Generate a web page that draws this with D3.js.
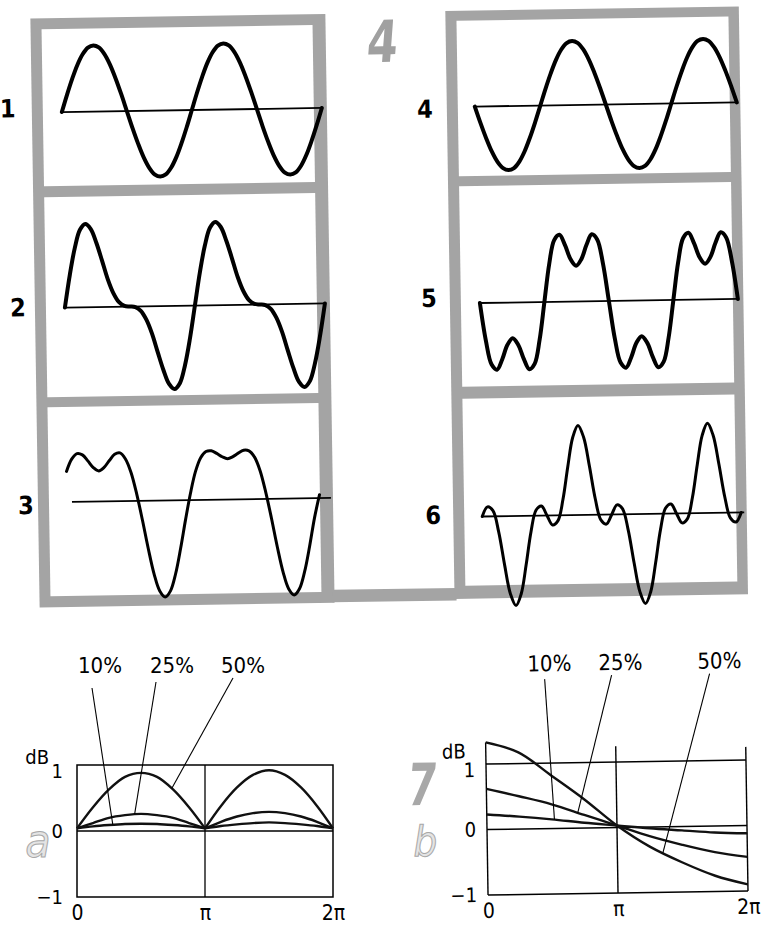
<!DOCTYPE html>
<html><head><meta charset="utf-8">
<script src="https://cdn.jsdelivr.net/npm/d3@7"></script>
<style>
html,body{margin:0;padding:0;background:#fff;}
svg{display:block;}
text{font-family:"DejaVu Sans Condensed","DejaVu Sans",sans-serif;font-stretch:condensed;}
</style></head><body>
<svg id="fig" width="770" height="928"></svg>
<script>
// ---------------- data ----------------
// phase grid of the six oscillograms, in degrees (two periods)
const phaseDeg = [0,15,30,45,60,75,90,105,120,135,150,165,180,195,210,225,240,255,270,285,300,315,330,345,360,
  375,390,405,420,435,450,465,480,495,510,525,540,555,570,585,600,615,630,645,660,675,690,705,720];

// waveform amplitudes
const wave1 = [0,.26,.5,.71,.87,.97,1,.97,.87,.71,.5,.26,0,-.26,-.5,-.71,-.87,-.97,-1,-.97,-.87,-.71,-.5,-.26,0,
  .26,.5,.71,.87,.97,1,.97,.87,.71,.5,.26,0,-.26,-.5,-.71,-.87,-.97,-1,-.97,-.87,-.71,-.5,-.26,0];
const wave2 = [0,.51,.93,1.21,1.3,1.22,1,.72,.43,.21,.07,.01,0,-.01,-.07,-.21,-.43,-.72,-1,-1.22,-1.3,-1.21,-.93,-.51,0,
  .51,.93,1.21,1.3,1.22,1,.72,.43,.21,.07,.01,0,-.01,-.07,-.21,-.43,-.72,-1,-1.22,-1.3,-1.21,-.93,-.51,0];
const wave3 = [.45,.63,.71,.69,.6,.5,.45,.5,.6,.69,.71,.62,.42,.1,-.29,-.71,-1.08,-1.33,-1.42,-1.33,-1.08,-.71,-.29,.1,.42,
  .62,.71,.72,.68,.63,.6,.63,.68,.72,.71,.62,.42,.1,-.29,-.71,-1.08,-1.33,-1.42,-1.33,-1.08,-.71,-.29,.05];
const wave4 = [0,-.26,-.5,-.71,-.87,-.97,-1,-.97,-.87,-.71,-.5,-.26,0,.26,.5,.71,.87,.97,1,.97,.87,.71,.5,.26,0,
  -.26,-.5,-.71,-.87,-.97,-1,-.97,-.87,-.71,-.5,-.26,0,.26,.5,.71,.87,.97,1,.97,.87,.71,.5,.26,0];
const wave5 = [0,-.58,-.95,-1.03,-.87,-.65,-.55,-.65,-.87,-1.03,-.95,-.58,0,.58,.95,1.03,.87,.65,.55,.65,.87,1.03,.95,.58,0,
  -.58,-.95,-1.03,-.87,-.65,-.55,-.65,-.87,-1.03,-.95,-.58,0,.58,.95,1.03,.87,.65,.55,.65,.87,1.03,.95,.58,0];
const wave6 = [0,.17,.1,-.28,-.87,-1.39,-1.6,-1.39,-.87,-.28,.1,.17,0,-.17,-.1,.28,.87,1.39,1.6,1.39,.87,.28,-.1,-.17,0,
  .17,.1,-.28,-.87,-1.39,-1.6,-1.39,-.87,-.28,.1,.17,0,-.17,-.1,.28,.87,1.39,1.6,1.39,.87,.28,-.1,-.17,0];
const panelLabels = ["1","2","3","4","5","6"];

// chart a (phase in units of pi, level in dB)
const xPiA = [0,.125,.25,.375,.5,.625,.75,.875,1,1.125,1.25,1.375,1.5,1.625,1.75,1.875,2];
const a10 = [.04,.07,.09,.105,.11,.105,.09,.07,.04,.075,.1,.12,.13,.12,.1,.075,.04];
const a25 = [.04,.12,.2,.24,.26,.24,.2,.12,.04,.14,.22,.27,.29,.27,.22,.14,.04];
const a50 = [.04,.36,.63,.82,.88,.82,.63,.36,.04,.38,.66,.85,.92,.85,.66,.38,.04];
// chart b
const xPiB = [0,.25,.5,.75,1,1.25,1.5,1.75,2];
const b10 = [.23,.19,.14,.08,.03,-.02,-.06,-.1,-.12];
const b25 = [.62,.5,.37,.2,.03,-.14,-.28,-.4,-.48];
const b50 = [1.33,1.17,.81,.44,.03,-.3,-.55,-.76,-.9];

const dbTicks = [-1,0,1];
const dbTickLabels = ["\u22121","0","1"];
const phaseTicks = [0,1,2];
const phaseTickLabels = ["0","\u03c0","2\u03c0"];
const pctLabels = ["10%","25%","50%"];
const figNumbers = ["4","7"];
const subLabels = ["a","b"];
const unitLabel = "dB";

// ---------------- drawing ----------------
const svg = d3.select("#fig");
const FRAME = "#a4a4a4";

// ===== oscillogram figure (scan is tilted slightly) =====
const gTop = svg.append("g").attr("transform","rotate(-0.9,385,310)");

// gray frame
gTop.append("rect").attr("x",35).attr("y",13).attr("width",295).attr("height",589).attr("fill",FRAME);
gTop.append("rect").attr("x",450).attr("y",12).attr("width",293.5).attr("height",588).attr("fill",FRAME);
gTop.append("rect").attr("x",328).attr("y",589).attr("width",124).attr("height",12.5).attr("fill",FRAME);
const inner = [
  [46,24,271,157],[46,192,271,200],[46,402,271,189],
  [461,22,272,155.5],[461,187.5,272,200.5],[461,400,272,187]
];
inner.forEach(r=>gTop.append("rect").attr("x",r[0]).attr("y",r[1]).attr("width",r[2]).attr("height",r[3]).attr("fill","#fff"));

// big gray figure number
gTop.append("text").text(figNumbers[0])
  .attr("transform","translate(385,62) scale(0.85,1) skewX(-6)")
  .attr("text-anchor","middle").attr("font-size",58).attr("font-weight","bold")
  .attr("fill","#a0a0a0");

const panels = [
 {vals:wave1, x0:65,  x1:325, axis:107,   k:66, ax0:65,  ax1:325, w:4,   lx:11,  ly:103},
 {vals:wave2, x0:65,  x1:325, axis:302.5, k:64, ax0:65,  ax1:325, w:4,   lx:18,  ly:302},
 {vals:wave3, x0:64,  x1:322, axis:497,   k:68, ax0:69,  ax1:328, w:3,   lx:23,  ly:500},
 {vals:wave4, x0:478, x1:740, axis:108,   k:64, ax0:478, ax1:740, w:4,   lx:428, ly:110},
 {vals:wave5, x0:480, x1:738, axis:304.5, k:65, ax0:480, ax1:738, w:4,   lx:429, ly:299},
 {vals:wave6, x0:479, x1:738, axis:518,   k:56, ax0:479, ax1:741, w:3,   lx:430, ly:516}
];
panels.forEach((p,pi)=>{
  const xs = d3.scaleLinear().domain([0,720]).range([p.x0,p.x1]);
  const ys = d3.scaleLinear().domain([-1,1]).range([p.axis+p.k,p.axis-p.k]);
  gTop.append("line").attr("x1",p.ax0).attr("x2",p.ax1).attr("y1",ys(0)).attr("y2",ys(0))
    .attr("stroke","#000").attr("stroke-width",1.8);
  const line = d3.line().x((d,i)=>xs(phaseDeg[i])).y(d=>ys(d)).curve(d3.curveCatmullRom.alpha(0.5));
  gTop.append("path").attr("d",line(p.vals)).attr("fill","none").attr("stroke","#000")
    .attr("stroke-width",p.w).attr("stroke-linejoin","round").attr("stroke-linecap","round");
  gTop.append("text").text(panelLabels[pi]).attr("x",p.lx).attr("y",p.ly)
    .attr("text-anchor","middle").attr("dominant-baseline","central")
    .attr("font-size",25).attr("font-weight","bold").attr("fill","#000");
});

// ===== helper for dB charts =====
function interp(xsArr, vals, x){
  const i = Math.min(Math.max(d3.bisectRight(xsArr,x),1),xsArr.length-1);
  const t = (x-xsArr[i-1])/(xsArr[i]-xsArr[i-1]);
  return vals[i-1]+t*(vals[i]-vals[i-1]);
}
function styleAxis(g,size){
  g.select(".domain").remove();
  g.attr("font-family",null).attr("font-size",null);
  g.selectAll("text").attr("font-size",size).attr("fill","#000");
}
function nudgeTop(g){ // the "1" label sits a little below its grid line
  g.selectAll(".tick").filter(d=>d===1).select("text").attr("dy","0.62em");
}

// ===== chart a =====
const gA = svg.append("g");
const xA = d3.scaleLinear().domain([0,2]).range([77,333]);
const yA = d3.scaleLinear().domain([-1,1]).range([897,765]);
gA.append("rect").attr("x",xA(0)).attr("y",yA(1)).attr("width",xA(2)-xA(0)).attr("height",yA(-1)-yA(1))
  .attr("fill","none").attr("stroke","#000").attr("stroke-width",1.5);
gA.append("line").attr("x1",xA(1)).attr("x2",xA(1)).attr("y1",yA(1)).attr("y2",yA(-1)).attr("stroke","#000").attr("stroke-width",1.3);
gA.append("line").attr("x1",xA(0)).attr("x2",xA(2)).attr("y1",yA(0)).attr("y2",yA(0)).attr("stroke","#000").attr("stroke-width",1.5);
const lineA = d3.line().x(d=>xA(d[0])).y(d=>yA(d[1])).curve(d3.curveCatmullRom.alpha(0.5));
[a10,a25,a50].forEach(vals=>{
  const pts = xPiA.map((x,i)=>[x,vals[i]]);
  [pts.filter(d=>d[0]<=1), pts.filter(d=>d[0]>=1)].forEach(seg=>{
    gA.append("path").attr("d",lineA(seg)).attr("fill","none").attr("stroke","#111").attr("stroke-width",2.4);
  });
});
gA.append("g").attr("transform",`translate(${xA(0)},0)`)
  .call(d3.axisLeft(yA).tickValues(dbTicks).tickFormat((d,i)=>dbTickLabels[i]).tickSize(0).tickPadding(14))
  .call(g=>styleAxis(g,20)).call(nudgeTop);
gA.append("g").attr("transform",`translate(0,${yA(-1)})`)
  .call(d3.axisBottom(xA).tickValues(phaseTicks).tickFormat((d,i)=>phaseTickLabels[i]).tickSize(0).tickPadding(8))
  .call(g=>styleAxis(g,21));
gA.append("text").text(unitLabel).attr("x",49).attr("y",764).attr("text-anchor","end").attr("font-size",20);
// labels with leader lines
const annA = [
  {t:pctLabels[0], tx:100, ty:673, lx:92,  ly:688, vals:a10, at:.28},
  {t:pctLabels[1], tx:172, ty:673, lx:156, ly:682, vals:a25, at:.45},
  {t:pctLabels[2], tx:243, ty:673, lx:233, ly:678, vals:a50, at:.74}
];
annA.forEach(a=>{
  gA.append("text").text(a.t).attr("x",a.tx).attr("y",a.ty).attr("text-anchor","middle").attr("font-size",22);
  gA.append("line").attr("x1",a.lx).attr("y1",a.ly).attr("x2",xA(a.at)).attr("y2",yA(interp(xPiA,a.vals,a.at)))
    .attr("stroke","#000").attr("stroke-width",1.1);
});
gA.append("text").text(subLabels[0]).attr("x",38).attr("y",857).attr("text-anchor","middle")
  .attr("font-family","Liberation Serif, serif").attr("font-style","italic").attr("font-size",46)
  .attr("fill","#e4e4e4").attr("stroke","#a8a8a8").attr("stroke-width",1);

// ===== chart b =====
const gB = svg.append("g").attr("transform","rotate(-0.9,617,828)");
const xB = d3.scaleLinear().domain([0,2]).range([487,747]);
const yB = d3.scaleLinear().domain([-1,1]).range([893,762]);
dbTicks.forEach(v=>{
  gB.append("line").attr("x1",xB(0)).attr("x2",xB(2)).attr("y1",yB(v)).attr("y2",yB(v)).attr("stroke","#000").attr("stroke-width",1.5);
});
const vTops = [1.33,1.24,1.2];
phaseTicks.forEach((v,i)=>{
  gB.append("line").attr("x1",xB(v)).attr("x2",xB(v)).attr("y1",yB(vTops[i])).attr("y2",yB(-1)).attr("stroke","#000").attr("stroke-width",1.4);
});
const lineB = d3.line().x(d=>xB(d[0])).y(d=>yB(d[1])).curve(d3.curveCatmullRom.alpha(0.5));
[b10,b25,b50].forEach(vals=>{
  gB.append("path").attr("d",lineB(xPiB.map((x,i)=>[x,vals[i]]))).attr("fill","none").attr("stroke","#111").attr("stroke-width",2.4);
});
gB.append("g").attr("transform",`translate(${xB(0)},0)`)
  .call(d3.axisLeft(yB).tickValues(dbTicks).tickFormat((d,i)=>dbTickLabels[i]).tickSize(0).tickPadding(11))
  .call(g=>styleAxis(g,20)).call(nudgeTop);
gB.append("g").attr("transform",`translate(0,${yB(-1)})`)
  .call(d3.axisBottom(xB).tickValues(phaseTicks).tickFormat((d,i)=>phaseTickLabels[i]).tickSize(0).tickPadding(8))
  .call(g=>styleAxis(g,21));
gB.append("text").text(unitLabel).attr("x",467).attr("y",756).attr("text-anchor","end").attr("font-size",20);
const annB = [
  {t:pctLabels[0], tx:552, ty:670, lx:547, ly:678, vals:b10, at:.52},
  {t:pctLabels[1], tx:623, ty:670, lx:614, ly:675, vals:b25, at:.7},
  {t:pctLabels[2], tx:722, ty:670, lx:712, ly:675, vals:b50, at:1.35}
];
annB.forEach(a=>{
  gB.append("text").text(a.t).attr("x",a.tx).attr("y",a.ty).attr("text-anchor","middle").attr("font-size",22);
  gB.append("line").attr("x1",a.lx).attr("y1",a.ly).attr("x2",xB(a.at)).attr("y2",yB(interp(xPiB,a.vals,a.at)))
    .attr("stroke","#000").attr("stroke-width",1.1);
});
gB.append("text").text(figNumbers[1])
  .attr("transform","translate(421,802) scale(0.8,1) skewX(-8)")
  .attr("text-anchor","middle").attr("font-size",58).attr("font-weight","bold").attr("fill","#a8a8a8");
gB.append("text").text(subLabels[1]).attr("x",425).attr("y",853).attr("text-anchor","middle")
  .attr("font-style","italic").attr("font-size",42)
  .attr("fill","#e4e4e4").attr("stroke","#a8a8a8").attr("stroke-width",1);
</script>
</body></html>
